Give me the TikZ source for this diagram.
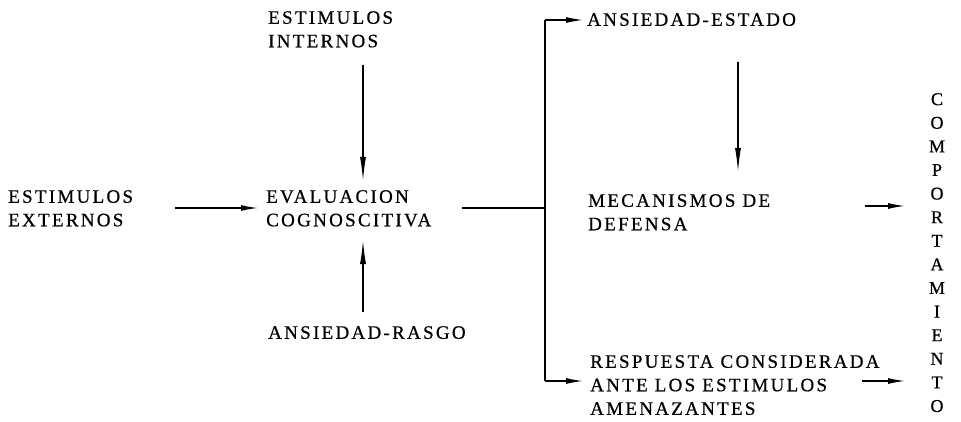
\documentclass[tikz,border=0pt]{standalone}
\usepackage{fontspec}
\setmainfont{Liberation Serif}[LetterSpace=12,FakeBold=0.6]
\usetikzlibrary{arrows.meta,positioning}

\tikzset{
	lbl/.style={anchor=north west,inner sep=0pt,align=left,font=\fontsize{19}{23.5}\selectfont},
	arr/.style={-{Latex[length=17pt,width=6pt]},line width=1.3pt},
	varr/.style={-{Latex[length=24pt,width=6pt]},line width=1.3pt},
	ln/.style={line width=1.3pt}
}

\begin{document}
\begin{tikzpicture}[x=1pt,y=-1pt]
	\useasboundingbox (0,0) rectangle (961,422);
	
	% left column
	\node[lbl] (ext) at (8,190) {ESTIMULOS\\EXTERNOS};
	\node[lbl] (int) at (268,11) {ESTIMULOS\\INTERNOS};
	\node[lbl] (eval) at (266,190) {EVALUACION\\COGNOSCITIVA};
	\node[lbl] (rasgo) at (268,326) {ANSIEDAD-RASGO};
	
	% right column
	\node[lbl] (estado) at (587,13) {ANSIEDAD-ESTADO};
	\node[lbl] (meca) at (588,194) {MECANISMOS DE\\DEFENSA};
	\node[lbl] (resp) at (590,355) {RESPUESTA CONSIDERADA\\ANTE LOS ESTIMULOS\\AMENAZANTES};
	\node[anchor=north,inner sep=0pt,align=center,font=\fontsize{18}{23.6}\selectfont] (comp) at (937,93)
		{C\\O\\M\\P\\O\\R\\T\\A\\M\\I\\E\\N\\T\\O};
	
	% arrow ends
	\coordinate (extout) at (175,208);
	\coordinate (evalin) at (258,208);
	\coordinate (intout) at (363,65);
	\coordinate (evaltop) at (363,181);
	\coordinate (rasgoout) at (363,312);
	\coordinate (evalbot) at (363,240);
	\coordinate (evalout) at (462,208);
	\coordinate (split) at (545,208);
	\coordinate (splittop) at (545,20);
	\coordinate (splitbot) at (545,381);
	\coordinate (estadoin) at (583,20);
	\coordinate (respin) at (583,381);
	\coordinate (estadoout) at (738,62);
	\coordinate (mecain) at (738,172);
	\coordinate (mecaout) at (865,206);
	\coordinate (respout) at (862,381);
	\coordinate (compin1) at (905,206);
	\coordinate (compin2) at (905,381);
	
	% inputs to evaluation
	\draw[arr] (extout) -- (evalin);
	\draw[varr] (intout) -- (evaltop);
	\draw[varr] (rasgoout) -- (evalbot);
	
	% branching
	\draw[ln] (evalout) -- (split);
	\draw[ln] (splittop) -- (splitbot);
	\draw[arr] (splittop) -- (estadoin);
	\draw[arr] (splitbot) -- (respin);
	\draw[varr] (estadoout) -- (mecain);
	
	% to behaviour
	\draw[arr] (mecaout) -- (compin1);
	\draw[arr] (respout) -- (compin2);
\end{tikzpicture}
\end{document}
